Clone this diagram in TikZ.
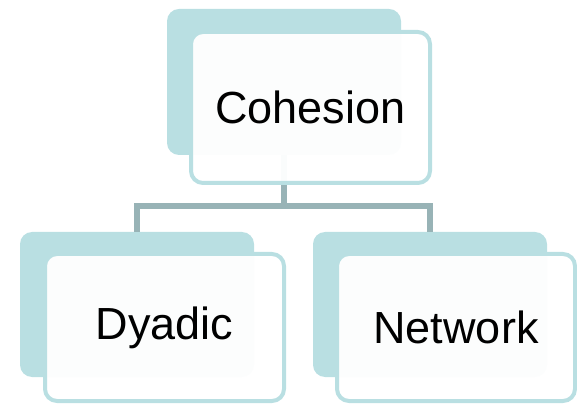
\documentclass[tikz,border=0pt]{standalone}
\usepackage{fontspec}
\setmainfont{Liberation Sans}
\definecolor{paleteal}{HTML}{B9DFE2}
\definecolor{linkgray}{HTML}{98B3B6}
\tikzset{
  backcard/.style={draw=none, fill=paleteal, rounded corners=12pt, inner sep=0pt},
  frontcard/.style={draw=paleteal, line width=4pt, fill=white, fill opacity=0.96, text opacity=1,
    rounded corners=12pt, inner sep=0pt, font=\fontsize{45}{50}\selectfont},
  link/.style={draw=linkgray, line width=5.5pt}
}
\begin{document}
\begin{tikzpicture}[x=1pt,y=1pt]
\useasboundingbox (0,0) rectangle (577,404);
% back cards
\node[backcard, minimum width=234pt, minimum height=146pt] (tb) at (284,322) {};
\node[backcard, minimum width=234pt, minimum height=145pt] (lb) at (137,99.5) {};
\node[backcard, minimum width=234pt, minimum height=145pt] (rb) at (430,99.5) {};
% tree connectors
\coordinate (j) at (284,198);
\draw[link] (tb.south) -- (j) -| (lb.north);
\draw[link] (j) -| (rb.north);
% front cards with labels
\node[frontcard, minimum width=239pt, minimum height=151pt] (coh) at (310.5,296.5) {Cohesion};
\node[frontcard, minimum width=239pt, minimum height=147pt] (dya) at (164.5,76.5) {Dyadic};
\node[frontcard, minimum width=238pt, minimum height=147pt] (net) at (456,76.5) {Network};
\end{tikzpicture}
\end{document}
